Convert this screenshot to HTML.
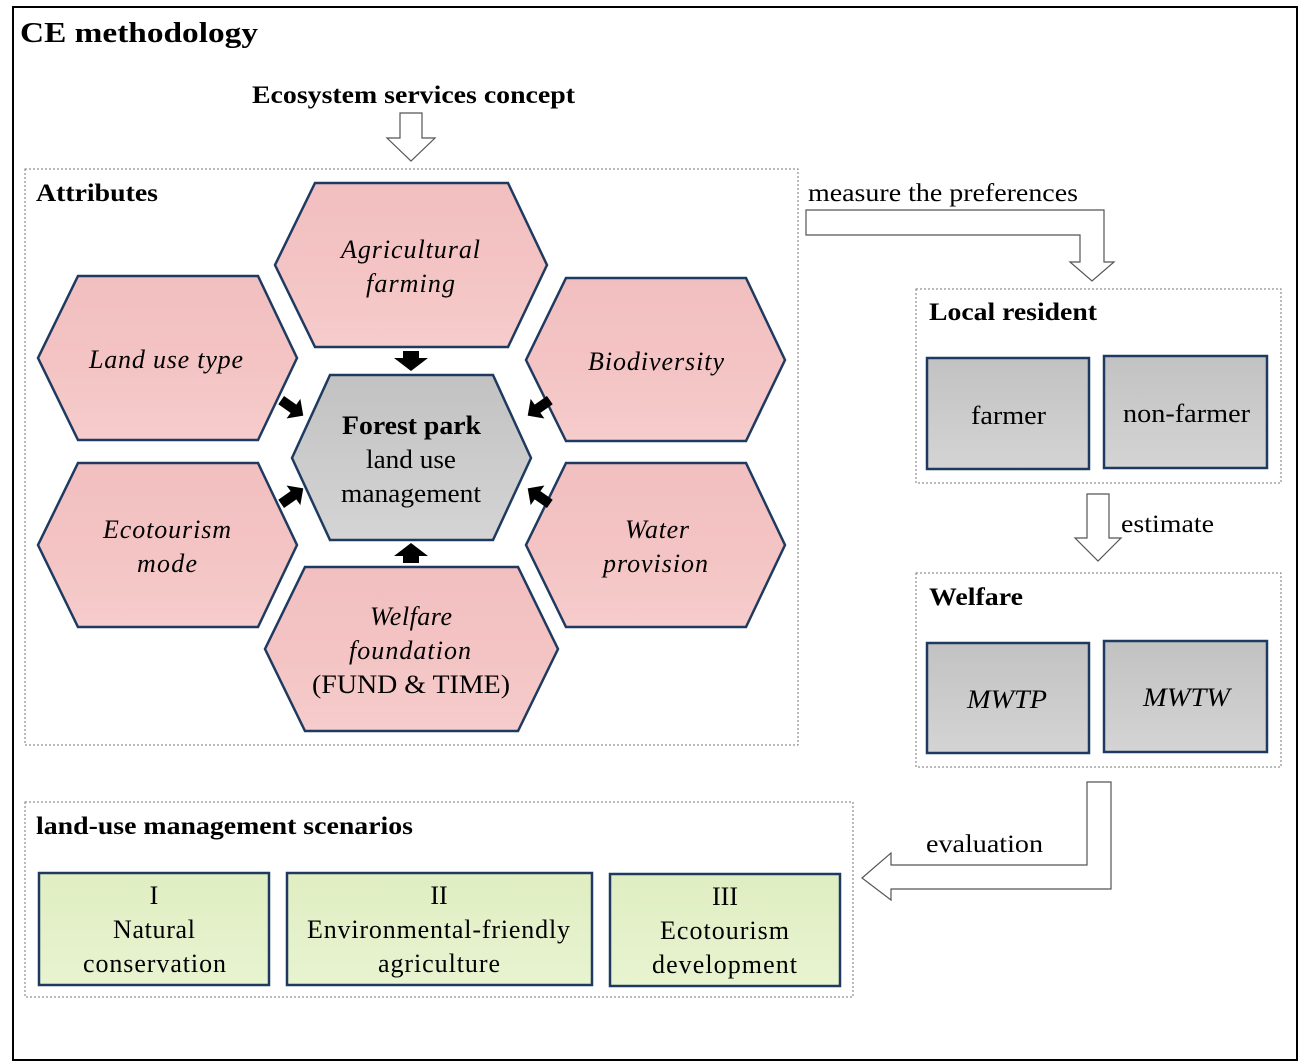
<!DOCTYPE html>
<html><head><meta charset="utf-8"><style>
html,body{margin:0;padding:0;background:#fff}
svg{display:block}
text{font-family:"Liberation Serif",serif;fill:#000}
</style></head><body>
<svg width="1299" height="1063" viewBox="0 0 1299 1063" xmlns="http://www.w3.org/2000/svg">
<defs>
<linearGradient id="pk" x1="0" y1="0" x2="0" y2="1"><stop offset="0" stop-color="#f1bfbf"/><stop offset="0.5" stop-color="#f4c3c3"/><stop offset="1" stop-color="#f6cccc"/></linearGradient>
<linearGradient id="gy" x1="0" y1="0" x2="0" y2="1"><stop offset="0" stop-color="#c2c2c2"/><stop offset="0.5" stop-color="#cbcbcb"/><stop offset="1" stop-color="#d4d4d4"/></linearGradient>
<linearGradient id="gn" x1="0" y1="0" x2="0" y2="1"><stop offset="0" stop-color="#e0eec2"/><stop offset="1" stop-color="#e8f3d0"/></linearGradient>
</defs>
<rect x="13" y="7" width="1284" height="1053" fill="none" stroke="#000" stroke-width="2"/>
<text x="20" y="42" font-size="29" font-weight="bold" textLength="238" lengthAdjust="spacingAndGlyphs">CE methodology</text>
<text x="252" y="103" font-size="25" font-weight="bold" textLength="323" lengthAdjust="spacingAndGlyphs">Ecosystem services concept</text>
<polygon points="400,113 422,113 422,138 435,138 411,161 387,138 400,138" fill="#fff" stroke="#555" stroke-width="1.2"/>

<rect x="25" y="169" width="773" height="576" fill="none" stroke="#777" stroke-dasharray="2,2"/>
<text x="36" y="201" font-size="25" font-weight="bold" textLength="122" lengthAdjust="spacingAndGlyphs">Attributes</text>

<g stroke="#1f3a60" stroke-width="2.5">
<polygon points="315,183 508,183 547,265 508,347 315,347 275,265" fill="url(#pk)"/>
<polygon points="78,276 258,276 297,358 258,440 78,440 38,358" fill="url(#pk)"/>
<polygon points="566,278 746,278 785,360 746,441 566,441 526,360" fill="url(#pk)"/>
<polygon points="78,463 258,463 297,545 258,627 78,627 38,545" fill="url(#pk)"/>
<polygon points="566,463 746,463 785,545 746,627 566,627 526,545" fill="url(#pk)"/>
<polygon points="305,567 518,567 558,649 518,731 305,731 265,649" fill="url(#pk)"/>
<polygon points="330,375 493,375 531,458 493,540 330,540 292,458" fill="url(#gy)"/>
</g>
<g font-size="26" font-style="italic" lengthAdjust="spacingAndGlyphs">
<text x="341" y="258" textLength="139">Agricultural</text><text x="366" y="292" textLength="89">farming</text>
<text x="89" y="368" textLength="154">Land use type</text>
<text x="588" y="370" textLength="136">Biodiversity</text>
<text x="103" y="538" textLength="128">Ecotourism</text><text x="137" y="572" textLength="60">mode</text>
<text x="625" y="538" textLength="64">Water</text><text x="603" y="572" textLength="105">provision</text>
<text x="370" y="625" textLength="82">Welfare</text><text x="349" y="659" textLength="122">foundation</text>
</g>
<text x="312" y="693" font-size="26" textLength="198" lengthAdjust="spacingAndGlyphs">(FUND &amp; TIME)</text>
<text x="342" y="434" font-size="26" font-weight="bold" textLength="139" lengthAdjust="spacingAndGlyphs">Forest park</text>
<text x="366" y="468" font-size="26" textLength="90" lengthAdjust="spacingAndGlyphs">land use</text>
<text x="341" y="502" font-size="26" textLength="140" lengthAdjust="spacingAndGlyphs">management</text>

<g fill="#000">
<polygon points="403,351 419,351 419,358 428,358 411,371 394,358 403,358"/>
<polygon points="403,563 419,563 419,556 428,556 411,543 394,556 403,556"/>
<g transform="translate(291,407) rotate(35)"><polygon points="-12,-5 3,-5 3,-12 15,0 3,12 3,5 -12,5"/></g>
<g transform="translate(291,497) rotate(-35)"><polygon points="-12,-5 3,-5 3,-12 15,0 3,12 3,5 -12,5"/></g>
<g transform="translate(540,407) rotate(145)"><polygon points="-12,-5 3,-5 3,-12 15,0 3,12 3,5 -12,5"/></g>
<g transform="translate(540,497) rotate(-145)"><polygon points="-12,-5 3,-5 3,-12 15,0 3,12 3,5 -12,5"/></g>
</g>

<text x="808" y="201" font-size="25" textLength="270" lengthAdjust="spacingAndGlyphs">measure the preferences</text>
<polygon points="806,210 1104,210 1104,262 1114,262 1092,281 1070,262 1080,262 1080,235 806,235" fill="#fff" stroke="#555" stroke-width="1.2"/>

<rect x="916" y="289" width="365" height="194" fill="none" stroke="#777" stroke-dasharray="2,2"/>
<text x="929" y="320" font-size="25" font-weight="bold" textLength="168" lengthAdjust="spacingAndGlyphs">Local resident</text>
<g stroke="#1f3a60" stroke-width="2.5" fill="url(#gy)">
<rect x="927" y="358" width="162" height="111"/>
<rect x="1104" y="356" width="163" height="112"/>
<rect x="927" y="643" width="162" height="110"/>
<rect x="1104" y="641" width="163" height="111"/>
</g>
<text x="971" y="424" font-size="26" textLength="75" lengthAdjust="spacingAndGlyphs">farmer</text>
<text x="1123" y="422" font-size="26" textLength="127" lengthAdjust="spacingAndGlyphs">non-farmer</text>

<polygon points="1087,494 1109,494 1109,538 1121,538 1098,561 1075,538 1087,538" fill="#fff" stroke="#555" stroke-width="1.2"/>
<text x="1121" y="532" font-size="25" textLength="93" lengthAdjust="spacingAndGlyphs">estimate</text>

<rect x="916" y="573" width="365" height="194" fill="none" stroke="#777" stroke-dasharray="2,2"/>
<text x="929" y="605" font-size="25" font-weight="bold" textLength="94" lengthAdjust="spacingAndGlyphs">Welfare</text>
<text x="967" y="708" font-size="26" font-style="italic" textLength="80" lengthAdjust="spacingAndGlyphs">MWTP</text>
<text x="1143" y="706" font-size="26" font-style="italic" textLength="87" lengthAdjust="spacingAndGlyphs">MWTW</text>

<polygon points="1087,782 1111,782 1111,889 891,889 891,900 862,878 891,853 891,865 1087,865" fill="#fff" stroke="#555" stroke-width="1.2"/>
<text x="926" y="852" font-size="25" textLength="117" lengthAdjust="spacingAndGlyphs">evaluation</text>

<rect x="25" y="802" width="828" height="195" fill="none" stroke="#777" stroke-dasharray="2,2"/>
<text x="36" y="834" font-size="25" font-weight="bold" textLength="377" lengthAdjust="spacingAndGlyphs">land-use management scenarios</text>
<g stroke="#1f3a60" stroke-width="2.5" fill="url(#gn)">
<rect x="39" y="873" width="230" height="112"/>
<rect x="287" y="873" width="305" height="112"/>
<rect x="610" y="874" width="230" height="112"/>
</g>
<g font-size="26" lengthAdjust="spacingAndGlyphs">
<text x="154" y="904" text-anchor="middle">I</text><text x="113" y="938" textLength="82">Natural</text><text x="83" y="972" textLength="143">conservation</text>
<text x="439" y="904" text-anchor="middle">II</text><text x="307" y="938" textLength="263">Environmental-friendly</text><text x="378" y="972" textLength="122">agriculture</text>
<text x="725" y="905" text-anchor="middle">III</text><text x="660" y="939" textLength="129">Ecotourism</text><text x="652" y="973" textLength="145">development</text>
</g>
</svg>
</body></html>
